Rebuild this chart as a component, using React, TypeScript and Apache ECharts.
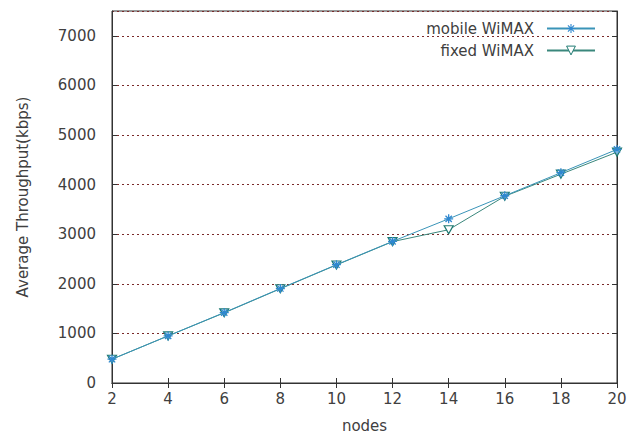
import React, { useEffect, useRef } from "react";
import * as echarts from "echarts";

const nodes = [2, 4, 6, 8, 10, 12, 14, 16, 18, 20];
const mobileWiMAX = [480, 950, 1420, 1905, 2385, 2855, 3310, 3775, 4240, 4710];
const fixedWiMAX = [480, 950, 1415, 1900, 2380, 2850, 3090, 3765, 4210, 4655];
const seriesNames = ["mobile WiMAX", "fixed WiMAX"];

const FONT = "DejaVu Sans";
const TEXT = "#404040";
const AXIS = "#333333";
const MOBILE_LINE = "#3a94b8";
const MOBILE_MARK = "#2f88d0";
const FIXED_LINE = "#3a877c";
const FIXED_MARK = "#1f7a72";

const asterisk =
  "path://M5,0L5,10M0,5L10,5M1.5,1.5L8.5,8.5M1.5,8.5L8.5,1.5";
const triDown = "path://M0,0L10,0L5,9Z";

export default function App() {
  const ref = useRef<HTMLDivElement>(null);
  useEffect(() => {
    if (!ref.current) return;
    const chart = echarts.init(ref.current, undefined, { renderer: "svg" });
    const pair = (ys: number[]) => nodes.map((x, i) => [x, ys[i]]);
    const tick = { show: true, inside: true, length: 5, lineStyle: { color: AXIS } };
    chart.setOption({
      animation: false,
      backgroundColor: "#ffffff",
      textStyle: { fontFamily: FONT },
      grid: {
        left: 112,
        right: 21,
        top: 11,
        bottom: 54,
        show: true,
        borderColor: AXIS,
        borderWidth: 1,
        backgroundColor: "transparent",
      },
      legend: {
        orient: "vertical",
        right: 37,
        top: 16,
        align: "right",
        itemWidth: 48,
        itemHeight: 11,
        itemGap: 7,
        textStyle: { fontFamily: FONT, fontSize: 15, color: TEXT, padding: [0, 8, 0, 0] },
        data: [
          {
            name: seriesNames[0],
            itemStyle: { color: "transparent", borderColor: MOBILE_MARK, borderWidth: 1.1 },
          },
          {
            name: seriesNames[1],
            itemStyle: { color: "#ffffff", borderColor: FIXED_MARK, borderWidth: 1 },
          },
        ],
      },
      xAxis: [
        {
          type: "value",
          min: 2,
          max: 20,
          interval: 2,
          position: "bottom",
          name: "nodes",
          nameLocation: "middle",
          nameGap: 35,
          nameTextStyle: { fontFamily: FONT, fontSize: 15, color: TEXT },
          axisLine: { show: true, lineStyle: { color: AXIS } },
          axisTick: tick,
          axisLabel: { fontFamily: FONT, fontSize: 15, color: TEXT, margin: 8 },
          splitLine: { show: false },
        },
        {
          type: "value",
          min: 2,
          max: 20,
          interval: 2,
          position: "top",
          axisLine: { show: true, lineStyle: { color: AXIS } },
          axisTick: tick,
          axisLabel: { show: false },
          splitLine: { show: false },
        },
      ],
      yAxis: [
        {
          type: "value",
          min: 0,
          max: 7500,
          interval: 1000,
          position: "left",
          name: "Average Throughput(kbps)",
          nameLocation: "middle",
          nameGap: 82,
          nameTextStyle: { fontFamily: FONT, fontSize: 15, color: TEXT },
          axisLine: { show: true, lineStyle: { color: AXIS } },
          axisTick: tick,
          axisLabel: {
            fontFamily: FONT,
            fontSize: 15,
            color: TEXT,
            margin: 16,
            showMaxLabel: false,
            formatter: (v: number) => (v % 1000 === 0 ? String(v) : ""),
          },
          splitLine: {
            show: true,
            lineStyle: { color: "#7a2a2a", type: [2, 3], width: 1 },
          },
        },
        {
          type: "value",
          min: 0,
          max: 7500,
          interval: 1000,
          position: "right",
          axisLine: { show: true, lineStyle: { color: AXIS } },
          axisTick: tick,
          axisLabel: { show: false },
          splitLine: { show: false },
        },
      ],
      series: [
        {
          name: seriesNames[0],
          type: "line",
          data: pair(mobileWiMAX),
          symbol: asterisk,
          symbolSize: 9,
          lineStyle: { color: MOBILE_LINE, width: 1 },
          itemStyle: { color: "transparent", borderColor: MOBILE_MARK, borderWidth: 1.3 },
          z: 3,
        },
        {
          name: seriesNames[1],
          type: "line",
          data: pair(fixedWiMAX),
          symbol: triDown,
          symbolSize: [9, 8],
          lineStyle: { color: FIXED_LINE, width: 1 },
          itemStyle: { color: "#ffffff", borderColor: FIXED_MARK, borderWidth: 1.2 },
          z: 2,
        },
      ],
    });
    return () => chart.dispose();
  }, []);
  return <div ref={ref} style={{ width: 638, height: 438, position: "absolute", left: 0, top: 0 }} />;
}
